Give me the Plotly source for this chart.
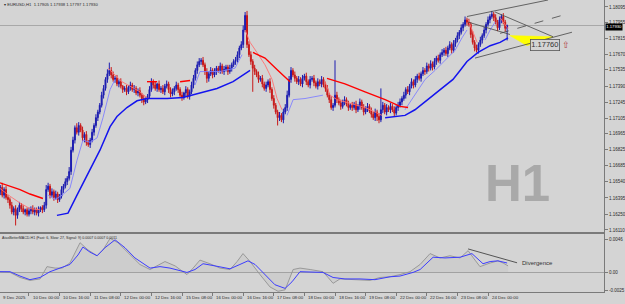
import plotly.graph_objects as go

# ---------------- data ----------------
first_open = 1.1641
close = [
    1.1645, 1.1649, 1.1642, 1.1647, 1.1640, 1.1638,
    1.1633, 1.1627, 1.1630, 1.1624, 1.1629, 1.1633,
    1.1630, 1.1627, 1.1629, 1.1625, 1.1628, 1.1630, 1.1627, 1.1629, 1.1626, 1.1629, 1.1631, 1.1629, 1.1633,
    1.1647, 1.1650, 1.1642,
    1.1645, 1.1640, 1.1643, 1.1638, 1.1641,
    1.1647, 1.1650, 1.1654, 1.1657, 1.1663,
    1.1682, 1.1691, 1.1702, 1.1698, 1.1704,
    1.1700, 1.1693, 1.1696, 1.1689, 1.1687,
    1.1691, 1.1698, 1.1704, 1.1711, 1.1716, 1.1722,
    1.1731, 1.1737, 1.1745, 1.1750, 1.1753,
    1.1749, 1.1745, 1.1746, 1.1741, 1.1743,
    1.1739, 1.1736, 1.1737, 1.1734, 1.1738, 1.1740, 1.1736, 1.1737, 1.1733, 1.1735, 1.1731,
    1.1728, 1.1725, 1.1727, 1.1730, 1.1736,
    1.1743, 1.1740, 1.1737, 1.1741, 1.1736,
    1.1737, 1.1734, 1.1739, 1.1741, 1.1736, 1.1732, 1.1734, 1.1737, 1.1740, 1.1736, 1.1731, 1.1729, 1.1733, 1.1736, 1.1730, 1.1734,
    1.1740, 1.1746, 1.1753, 1.1758, 1.1761,
    1.1762, 1.1758, 1.1752, 1.1746, 1.1750, 1.1753, 1.1749, 1.1752,
    1.1755, 1.1753, 1.1757, 1.1752, 1.1754, 1.1756, 1.1752, 1.1755, 1.1758, 1.1761, 1.1762,
    1.1767, 1.1773, 1.1776,
    1.1789, 1.1802, 1.1776,
    1.1767, 1.1761, 1.1755, 1.1752,
    1.1749, 1.1745, 1.1746, 1.1741, 1.1737, 1.1740, 1.1743, 1.1736,
    1.1728, 1.1722, 1.1716, 1.1711,
    1.1713, 1.1709, 1.1716, 1.1720,
    1.1731, 1.1745, 1.1753,
    1.1749, 1.1746, 1.1743, 1.1745, 1.1741, 1.1746, 1.1748, 1.1743, 1.1740, 1.1745, 1.1746, 1.1742, 1.1739, 1.1743, 1.1741,
    1.1745, 1.1740, 1.1737,
    1.1731, 1.1727, 1.1720, 1.1722, 1.1731,
    1.1727, 1.1724, 1.1721, 1.1725, 1.1727, 1.1723, 1.1720, 1.1722,
    1.1720, 1.1723, 1.1718, 1.1721, 1.1725, 1.1720, 1.1716, 1.1719, 1.1721, 1.1717,
    1.1714, 1.1711, 1.1716, 1.1712, 1.1709, 1.1718,
    1.1722, 1.1716, 1.1720, 1.1718, 1.1721, 1.1718, 1.1715, 1.1720, 1.1722, 1.1725,
    1.1728, 1.1731, 1.1736, 1.1734, 1.1739, 1.1743, 1.1740, 1.1745, 1.1748, 1.1746,
    1.1750, 1.1753, 1.1752, 1.1757, 1.1755, 1.1759, 1.1756, 1.1761, 1.1764, 1.1762, 1.1767,
    1.1769, 1.1771, 1.1768, 1.1773, 1.1776, 1.1771, 1.1777, 1.1780, 1.1784, 1.1787,
    1.1791, 1.1794, 1.1798, 1.1796, 1.1794,
    1.1785, 1.1778, 1.1773, 1.1771,
    1.1776, 1.1780, 1.1784, 1.1789,
    1.1794, 1.1798, 1.1801, 1.1803, 1.1800,
    1.1796, 1.1791, 1.1798,
    1.1801, 1.1796, 1.17905, 1.17930,
]
# wick lengths in pips (upper / lower)
up_wick = [
    3, 2, 4, 2, 3, 2, 2, 3, 2, 3,  2, 3, 2, 3, 1, 2, 3, 2, 3, 2,
    2, 3, 1, 2, 3, 4, 3, 2, 3, 2,  3, 2, 2, 3, 2, 3, 2, 4, 3, 3,
    2, 4, 3, 2, 3, 2, 3, 2, 2, 3,  2, 3, 2, 2, 3, 3, 2, 4, 7, 3,
    3, 2, 3, 2, 3, 1, 2, 3, 2, 3,  2, 3, 2, 2, 3, 2, 3, 2, 2, 3,
    3, 2, 3, 1, 3, 2, 3, 2, 3, 2,  2, 3, 2, 3, 2, 2, 3, 1, 3, 2,
    2, 3, 3, 2, 3, 3, 2, 3, 2, 3,  2, 3, 2, 3, 2, 2, 3, 2, 3, 2,
    2, 3, 2, 2, 3, 3, 2, 3, 4, 3,  4, 3, 3, 2, 3, 2, 3, 2, 3, 2,
    3, 2, 3, 2, 3, 2, 2, 3, 2, 3,  3, 4, 3, 3, 2, 3, 2, 3, 2, 3,
    2, 3, 2, 3, 2, 3, 2, 3, 2, 3,  2, 3, 3, 2, 3, 2, 31, 3, 2, 3,
    2, 3, 2, 3, 2, 3, 2, 3, 2, 3,  2, 3, 2, 3, 2, 3, 2, 3, 2, 3,
    19, 3, 2, 3, 2, 3, 2, 3, 2, 3, 3, 2, 3, 2, 3, 2, 3, 2, 3, 2,
    3, 2, 3, 2, 3, 2, 3, 2, 3, 2,  3, 2, 3, 2, 3, 2, 3, 2, 3, 2,
    3, 2, 3, 2, 3, 2, 3, 2, 3, 2,  3, 2, 3, 2, 3, 2, 3, 2, 3, 2,
    3, 2, 3, 2, 3, 2, 0.8,
]
dn_wick = [
    2, 3, 2, 3, 2, 3, 3, 2, 3, 9,  3, 2, 3, 2, 3, 2, 2, 3, 2, 3,
    2, 3, 2, 3, 2, 3, 2, 3, 2, 3,  2, 3, 2, 2, 3, 2, 3, 2, 3, 2,
    3, 2, 3, 2, 3, 4, 3, 2, 3, 2,  3, 2, 3, 2, 2, 3, 2, 3, 2, 3,
    2, 3, 2, 3, 2, 3, 2, 3, 2, 3,  2, 3, 2, 3, 2, 4, 3, 2, 3, 2,
    2, 3, 2, 3, 2, 3, 2, 3, 2, 3,  3, 2, 3, 2, 3, 2, 3, 2, 3, 2,
    3, 2, 3, 2, 3, 2, 3, 2, 3, 4,  3, 2, 3, 2, 3, 2, 3, 2, 3, 2,
    3, 2, 3, 2, 3, 2, 3, 2, 3, 2,  3, 2, 3, 21, 3, 2, 3, 2, 3, 2,
    3, 2, 3, 2, 3, 2, 7, 3, 2, 3,  2, 3, 2, 3, 2, 3, 2, 3, 2, 3,
    2, 3, 2, 3, 2, 3, 2, 3, 2, 3,  2, 3, 2, 3, 2, 3, 2, 3, 2, 3,
    2, 3, 2, 3, 2, 3, 2, 3, 2, 3,  2, 3, 2, 3, 2, 3, 2, 3, 4, 3,
    2, 3, 2, 3, 2, 3, 2, 3, 2, 3,  2, 3, 2, 3, 2, 3, 2, 3, 2, 3,
    2, 3, 2, 3, 2, 3, 2, 3, 2, 3,  2, 3, 2, 3, 2, 3, 2, 3, 2, 3,
    2, 3, 2, 3, 2, 3, 2, 3, 2, 3,  2, 3, 2, 3, 2, 3, 2, 3, 2, 3,
    2, 3, 2, 3, 2, 3, 10.8,
]

tick_bars = [0, 16, 32, 48, 64, 80, 96, 112, 128, 144, 160, 176, 192, 208, 224, 240, 256]
tick_text = ["9 Dec 2025", "10 Dec 00:00", "10 Dec 16:00", "11 Dec 08:00", "12 Dec 00:00",
             "12 Dec 16:00", "15 Dec 08:00", "16 Dec 00:00", "16 Dec 16:00", "17 Dec 08:00",
             "18 Dec 00:00", "18 Dec 16:00", "19 Dec 08:00", "22 Dec 00:00", "22 Dec 16:00",
             "23 Dec 08:00", "24 Dec 00:00"]
price_ticks = [1.18095, 1.17955, 1.17815, 1.17670, 1.17535, 1.17390, 1.17245, 1.17105,
               1.16965, 1.16825, 1.16685, 1.16540, 1.16395, 1.16250, 1.16110]
macd_ticks = [0.0046, 0.0, -0.0025]
macd_tick_text = ["0.0046", "0.00", "-0.0025"]

# moving-average style overlay lines (read as sparse points, None = not drawn)
red_ma_bars = [0.8, 6.1, 11.3, 16.5, 23.3, None, 77.7, 83, None, 95, 100.2, None,
               133.1, 139.4, 146.2, 152.5, None, 171.8, 181.2, 191.7, 202.2, 210, 214.2]
red_ma_vals = [1.1653, 1.1650, 1.1647, 1.1643, 1.1639, None, 1.1743, 1.1743, None, 1.1743, 1.1744, None,
               1.1769, 1.1764, 1.1753, 1.1743, None, 1.1746, 1.1741, 1.1734, 1.1727, 1.1721, 1.1720]
blue_ma_bars = [30.6, 36.4, 41.1, 47.9, 53.1, 58.4, 62, 67.2, 72.5, 77.7, 88.2, 96.5, 105.4, 114.3, 122.7, 131.6,
                None, 202.2, 207.4, 212.6, 217.8, 223.1, 228.3, 233.5, 237.7, 241.4, 245, 250.8, 257.1, 262.3, 266.5]
blue_ma_vals = [1.1624, 1.1626, 1.1642, 1.1664, 1.1682, 1.1703, 1.1712, 1.1720, 1.1726, 1.1728, 1.1728, 1.1729,
                1.1733, 1.1737, 1.1743, 1.1753,
                None, 1.1711, 1.1712, 1.1713, 1.1718, 1.1725, 1.1732, 1.1739, 1.1745, 1.1753, 1.1761, 1.1769,
                1.1775, 1.1778, 1.1782]
thin_red_bars = [0.8, 6.1, 11.3, 16.5, 21.8, None, 57.3, 61, 64.6, 68.8, 74, 78.2, None,
                 129, 131.6, 135.2, 139.4, 143.1, 145.7, 148.3, None,
                 170.8, 173.4, 177.1, 181.2, 186.5, 191.7, 196.9, 200.6, None,
                 245.6, 247.6, 250.3, None, 262.3, 264.9, 266.5]
thin_red_vals = [1.1648, 1.1641, 1.1635, 1.1630, 1.1629, None, 1.1755, 1.1749, 1.1743, 1.1739, 1.1734, 1.1728, None,
                 1.1789, 1.1778, 1.1769, 1.1758, 1.1745, 1.1728, 1.1718, None,
                 1.1743, 1.1731, 1.1727, 1.1725, 1.1722, 1.1720, 1.1716, 1.1713, None,
                 1.1798, 1.1789, 1.1778, None, 1.1800, 1.1794, 1.1790]
thin_blue_bars = [26, 29.6, 33.3, 37.4, 41.1, 44.2, 47.9, 51.6, 54.7, 58.4, 61, None,
                  102.8, 105.4, 109, 115.8, 123.7, 127.4, None,
                  150.9, 154.1, 160.3, 169.7, None,
                  212.6, 217.8, 223.1, 228.3, 233.5, 238.8, 242.4, 245, None,
                  254.4, 257.1, 259.7]
thin_blue_vals = [1.1642, 1.1638, 1.1642, 1.1648, 1.1673, 1.1691, 1.1689, 1.1693, 1.1711, 1.1736, 1.1745, None,
                  1.1740, 1.1752, 1.1752, 1.1752, 1.1755, 1.1767, None,
                  1.1713, 1.1727, 1.1728, 1.1731, None,
                  1.1718, 1.1731, 1.1745, 1.1753, 1.1762, 1.1771, 1.1782, 1.1789, None,
                  1.1780, 1.1789, 1.1796]

# drawn objects (bar, price)
channel_upper_bars, channel_upper_vals = [245, 287.4], [1.1801, 1.18157]
channel_lower_bars, channel_lower_vals = [249.2, 299.9], [1.1764, 1.1787]
channel_mid_bars, channel_mid_vals = [262.3, 294.7], [1.1786, 1.1802]
desc_a_bars, desc_a_vals = [245.6, 267.5], [1.1796, 1.1785]
desc_b_bars, desc_b_vals = [259.7, 290], [1.1805, 1.1783]
yellow_bars, yellow_vals = [267.5, 290, 276.4, 267.5], [1.1784, 1.1783, 1.1775, 1.1784]
target_bar, target_price, target_text = 285.8, 1.1776, "1.17760"

# MACD (sparse readings)
macd_gray_bars = [0.8, 6.1, 11.3, 16.5, 21.8, 25.4, 29.6, 33.3, 37.4, 42.7, 46.9, 51.6, 54.7, 58.4, 62.5, 68.8,
                  74, 79.3, 84.5, 87.1, 92.4, 98.6, 101.8, 105.4, 110.6, 115.9, 121.1, 124.8, 127.9, 131.6,
                  136.8, 142, 146.2, 149.9, 154.1, 157.7, 163, 169.7, 172.4, 175, 178.6, 186.5, 194.3, 199.5,
                  204.8, 210, 215.2, 220.5, 225.7, 230.9, 236.1, 241.4, 245.6, 249.2, 251.8, 257.1, 261.2,
                  263.9, 266.5]
macd_gray_vals = [0.0001, 0.0, -0.0007, -0.0011, -0.0009, 0.0008, 0.0006, 0.0006, 0.0013, 0.0041, 0.0031, 0.0023,
                  0.0031, 0.0047, 0.0041, 0.0024, 0.0011, 0.0004, 0.0011, 0.0015, 0.0009, -0.0003, 0.0006,
                  0.0017, 0.0012, 0.0006, 0.0004, 0.0015, 0.0026, 0.0015, -0.0003, -0.0020, -0.0026, -0.0024,
                  0.0004, 0.0006, 0.0004, 0.0001, -0.0007, -0.0015, -0.0009, -0.0010, -0.0011, -0.0007,
                  -0.0006, -0.0003, 0.0001, 0.0011, 0.0026, 0.0020, 0.0023, 0.0020, 0.0030, 0.0017, 0.0008,
                  0.0013, 0.0016, 0.0013, 0.0009]
macd_blue_bars = [0.8, 6.1, 11.3, 16.5, 21.8, 27, 32.2, 37.4, 41.6, 44.2, 47.9, 51.6, 55.7, 61, 66.2, 71.4,
                  79.3, 84.5, 89.7, 98.6, 102.8, 107, 113.3, 121.1, 126.3, 130.5, 134.2, 139.4, 144.6, 149.9,
                  153.5, 157.7, 164, 169.7, 175, 181.2, 189.1, 196.9, 204.8, 210, 216.8, 220.5, 227.3, 233.5,
                  241.4, 247.6, 253.4, 257.1, 261.2, 266]
macd_blue_vals = [0.0001, 0.0001, -0.0005, -0.0010, -0.0007, 0.0001, 0.0006, 0.0011, 0.0024, 0.0035, 0.0028,
                  0.0023, 0.0034, 0.0045, 0.0034, 0.0020, 0.0006, 0.0008, 0.0006, 0.0, 0.0004, 0.0012, 0.0009,
                  0.0005, 0.0011, 0.0016, 0.0011, -0.0003, -0.0017, -0.0022, -0.0013, 0.0001, 0.0001, 0.0,
                  -0.0007, -0.0009, -0.0009, -0.0010, -0.0006, -0.0005, 0.0, 0.0004, 0.0021, 0.0020, 0.0021,
                  0.0026, 0.0012, 0.0015, 0.0016, 0.0013]
div_bars, div_vals = [245.6, 271.2], [0.00324, 0.00133]

header = "\u25be EURUSD,H1  1.17905 1.17938 1.17797 1.17930"
macd_label = "AtasBetterMACD-H1 (Fast: 6, Slow: 27, Signal: 9) 0.0007 0.0007 0.0011"

# ---------------- build ----------------
bars = list(range(len(close)))
opens = [first_open] + close[:-1]
highs = [max(o, c) + u * 0.0001 for o, c, u in zip(opens, close, up_wick)]
lows = [min(o, c) - d * 0.0001 for o, c, d in zip(opens, close, dn_wick)]

BG = "#d4d4d4"
AX = "#7a7a7a"
TXT = "#2a2a2a"
FONT = "Liberation Sans"

fig = go.Figure()

fig.add_trace(go.Candlestick(
    x=bars, open=opens, high=highs, low=lows, close=close,
    increasing=dict(line=dict(color="#1c1cb0", width=1), fillcolor="#1c1cb0"),
    decreasing=dict(line=dict(color="#c81818", width=1), fillcolor="#c81818"),
    whiskerwidth=0, xaxis="x", yaxis="y", hoverinfo="skip", showlegend=False))

def line(xs, ys, color, width, xa="x", ya="y", dash="solid"):
    fig.add_trace(go.Scatter(x=xs, y=ys, mode="lines", line=dict(color=color, width=width, dash=dash),
                             xaxis=xa, yaxis=ya, hoverinfo="skip", showlegend=False, connectgaps=False))

line(thin_red_bars, thin_red_vals, "#ff7070", 0.9)
line(thin_blue_bars, thin_blue_vals, "#8080ff", 0.9)
line(red_ma_bars, red_ma_vals, "#ff0000", 1.4)
line(blue_ma_bars, blue_ma_vals, "#1414ee", 1.5)

# drawn objects
fig.add_trace(go.Scatter(x=yellow_bars, y=yellow_vals, mode="lines", fill="toself", fillcolor="#ffff00",
                         line=dict(color="#ffff00", width=0.5), hoverinfo="skip", showlegend=False))
line(channel_upper_bars, channel_upper_vals, "#454545", 0.8)
line(channel_lower_bars, channel_lower_vals, "#454545", 0.8)
line(channel_mid_bars, channel_mid_vals, "#454545", 0.8, dash="dash")
line(desc_a_bars, desc_a_vals, "#454545", 0.8)
line(desc_b_bars, desc_b_vals, "#454545", 0.8)

# MACD panel
fig.add_trace(go.Scatter(x=macd_gray_bars, y=macd_gray_vals, mode="lines", fill="tozeroy",
                         fillcolor="rgba(0,0,0,0)",
                         fillpattern=dict(shape="|", fgcolor="#a4a4a4", bgcolor="rgba(0,0,0,0)", size=2, solidity=0.3),
                         line=dict(color="#929292", width=0.9), xaxis="x2", yaxis="y2",
                         hoverinfo="skip", showlegend=False))
line(macd_blue_bars, macd_blue_vals, "#3c3cff", 1.0, xa="x2", ya="y2")
line(div_bars, div_vals, "#333333", 0.8, xa="x2", ya="y2")

x_range = [0.84, 316.65]
main_dom = [0.2055, 1.0]
macd_dom = [0.0, 0.1986]

fig.update_layout(
    width=625, height=304, margin=dict(l=0, r=21, t=0, b=12),
    paper_bgcolor=BG, plot_bgcolor=BG, showlegend=False,
    font=dict(family=FONT, size=5, color=TXT),
    xaxis=dict(domain=[0, 1], range=x_range, anchor="y", showgrid=False, zeroline=False,
               showticklabels=False, ticks="", showline=True, linecolor=AX, linewidth=1,
               rangeslider=dict(visible=False), fixedrange=True),
    yaxis=dict(domain=main_dom, range=[1.16092, 1.18157], side="right", anchor="x",
               tickvals=price_ticks, ticktext=[f"{v:.5f}" for v in price_ticks],
               ticks="outside", ticklen=3, tickcolor=AX, showgrid=False, zeroline=False,
               showline=True, linecolor=AX, linewidth=1, tickfont=dict(size=4.5, color=TXT)),
    xaxis2=dict(domain=[0, 1], range=x_range, anchor="y2", matches="x", showgrid=False, zeroline=False,
                tickvals=tick_bars, showticklabels=False, ticks="outside", ticklen=3, tickcolor=AX,
                showline=True, mirror=True, linecolor=AX, linewidth=1),
    yaxis2=dict(domain=macd_dom, range=[-0.0027, 0.0053], side="right", anchor="x2",
                tickvals=macd_ticks, ticktext=macd_tick_text, ticks="outside", ticklen=3, tickcolor=AX,
                showgrid=False, zeroline=True, zerolinecolor="#a2a2a2", zerolinewidth=1,
                showline=True, linecolor=AX, linewidth=1, tickfont=dict(size=4.5, color=TXT)),
)

# current price line
fig.add_shape(type="line", xref="paper", x0=0, x1=1, yref="y", y0=close[-1], y1=close[-1],
              line=dict(color="#a8a8a8", width=1), layer="below")

ann = []
ann.append(dict(text=header, xref="paper", yref="paper", x=0.003, y=1.0, xanchor="left", yanchor="top",
                showarrow=False, font=dict(size=4.2, color=TXT)))
ann.append(dict(text=macd_label, xref="paper", yref="paper", x=0.0, y=macd_dom[1], xanchor="left",
                yanchor="top", showarrow=False, font=dict(size=3.6, color=TXT)))
ann.append(dict(text="<b>H1</b>", xref="paper", yref="paper", x=0.856, y=0.373, xanchor="center",
                yanchor="middle", showarrow=False, font=dict(size=51, color="#a9a9a9", family=FONT)))
ann.append(dict(text=f"{close[-1]:.5f}", xref="paper", yref="y", x=1.0, y=close[-1], xanchor="left",
                yanchor="middle", showarrow=False, bgcolor="#000000", font=dict(size=4.2, color="#ffffff"),
                borderpad=0.3, xshift=1, yshift=-1.5))
ann.append(dict(text=target_text, x=target_bar, y=target_price, xref="x", yref="y", showarrow=False,
                xanchor="center", yanchor="middle", bordercolor="#555555", borderwidth=0.8, borderpad=0.5,
                bgcolor=BG, font=dict(size=7.5, color="#333333")))
ann.append(dict(text="\u21e7", x=target_bar + 11, y=target_price, xref="x", yref="y", showarrow=False,
                xanchor="center", yanchor="middle", font=dict(size=9, color="#b04040")))
ann.append(dict(text="Divergence", x=div_bars[1] + 1.5, y=div_vals[1], xref="x2", yref="y2", showarrow=False,
                xanchor="left", yanchor="middle", font=dict(size=6, color="#333333")))
for b, t in zip(tick_bars, tick_text):
    ann.append(dict(text=t, x=max(b + 0.8, x_range[0] + 0.3), y=0, xref="x2", yref="paper", showarrow=False,
                    xanchor="left", yanchor="top", yshift=-1, font=dict(size=4.4, color=TXT)))
fig.update_layout(annotations=ann)

fig.write_html("out.html")
